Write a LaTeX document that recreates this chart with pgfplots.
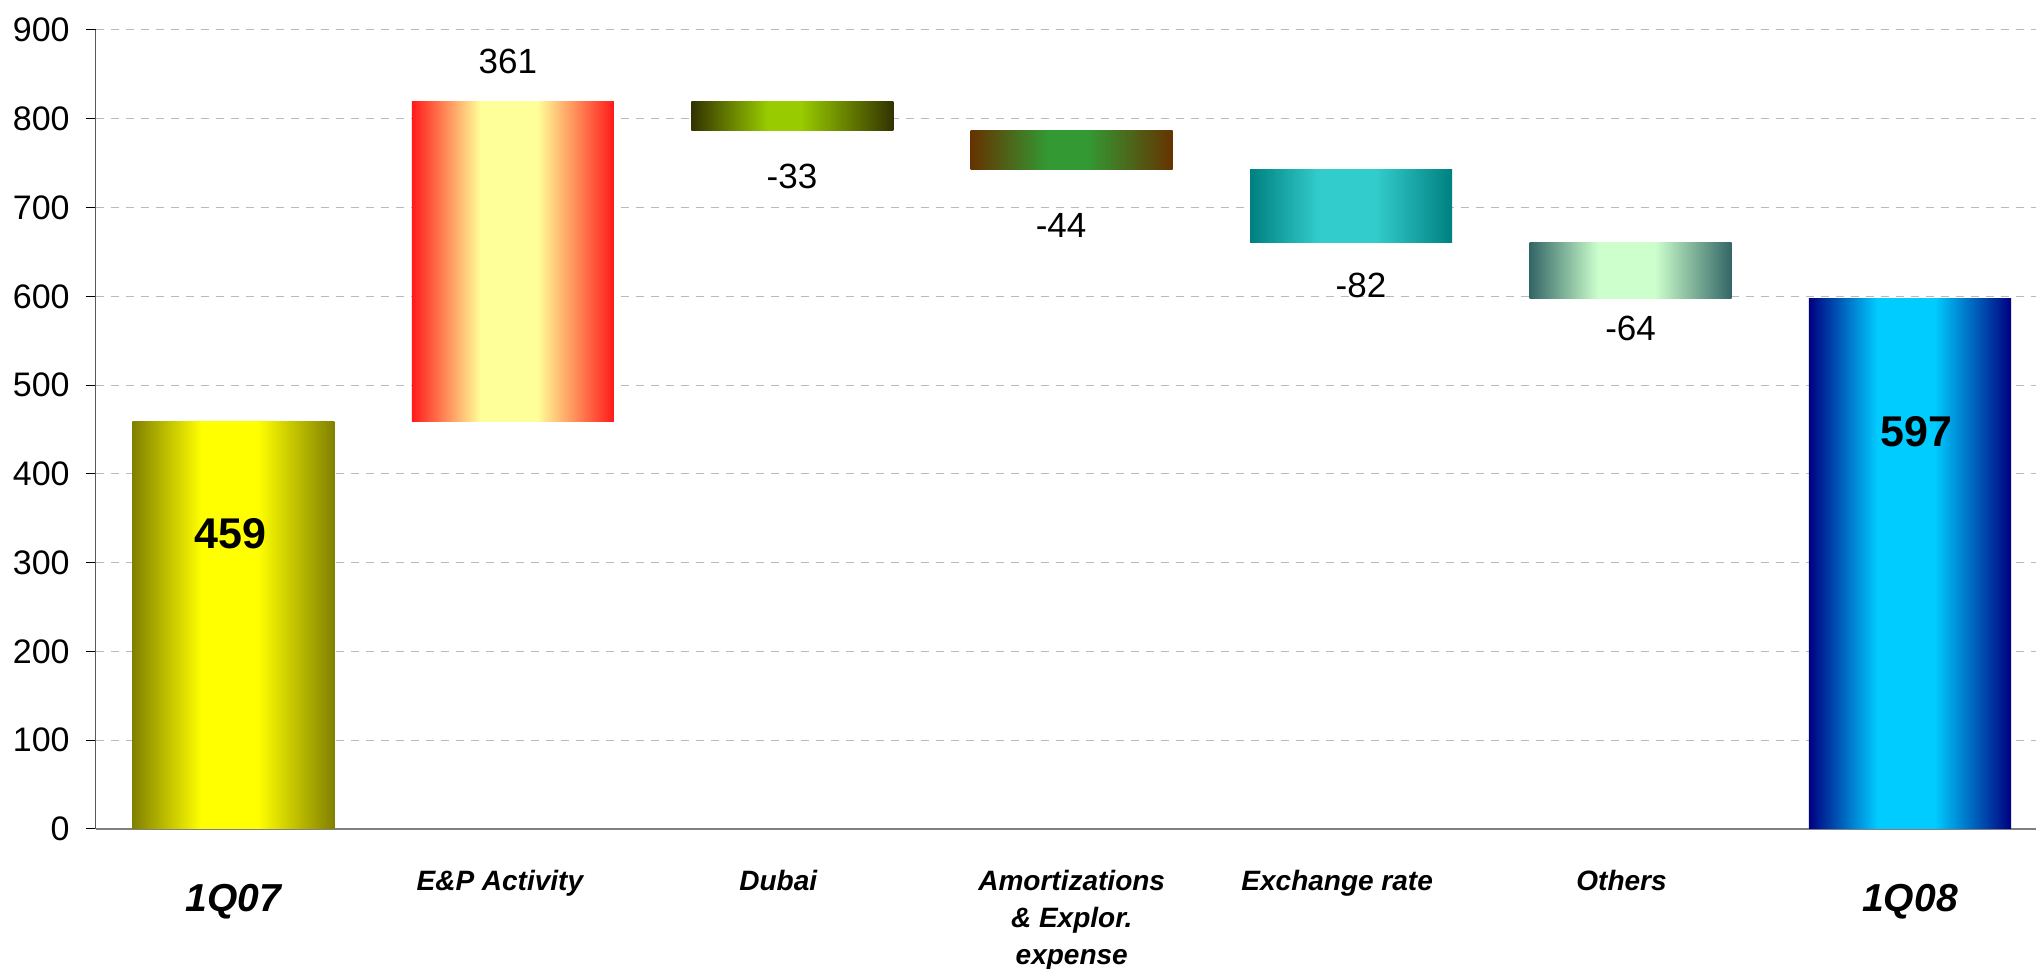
\documentclass[border=0pt]{standalone}
\usepackage{pgfplots}
\pgfplotsset{compat=1.18}
\usepackage{fontspec}
\setmainfont{Liberation Sans}

% edge / middle colours of each bar
\definecolor{eA}{HTML}{808000}\definecolor{mA}{HTML}{FFFF00}
\definecolor{eB}{HTML}{FF1A1A}\definecolor{mB}{HTML}{FFFF99}
\definecolor{eC}{HTML}{333300}\definecolor{mC}{HTML}{99CC00}
\definecolor{eD}{HTML}{663300}\definecolor{mD}{HTML}{339933}
\definecolor{eE}{HTML}{008080}\definecolor{mE}{HTML}{33CCCC}
\definecolor{eF}{HTML}{336666}\definecolor{mF}{HTML}{CCFFCC}
\definecolor{eG}{HTML}{000080}\definecolor{mG}{HTML}{00CCFF}

\pgfdeclarehorizontalshading{shA}{100bp}{color(0bp)=(eA); color(25bp)=(eA); color(42bp)=(mA); color(56bp)=(mA); color(75bp)=(eA); color(100bp)=(eA)}
\pgfdeclarehorizontalshading{shB}{100bp}{color(0bp)=(eB); color(25bp)=(eB); color(42bp)=(mB); color(56bp)=(mB); color(75bp)=(eB); color(100bp)=(eB)}
\pgfdeclarehorizontalshading{shC}{100bp}{color(0bp)=(eC); color(25bp)=(eC); color(44bp)=(mC); color(52bp)=(mC); color(75bp)=(eC); color(100bp)=(eC)}
\pgfdeclarehorizontalshading{shD}{100bp}{color(0bp)=(eD); color(25bp)=(eD); color(44bp)=(mD); color(54bp)=(mD); color(75bp)=(eD); color(100bp)=(eD)}
\pgfdeclarehorizontalshading{shE}{100bp}{color(0bp)=(eE); color(25bp)=(eE); color(42bp)=(mE); color(56bp)=(mE); color(75bp)=(eE); color(100bp)=(eE)}
\pgfdeclarehorizontalshading{shF}{100bp}{color(0bp)=(eF); color(25bp)=(eF); color(42bp)=(mF); color(56bp)=(mF); color(75bp)=(eF); color(100bp)=(eF)}
\pgfdeclarehorizontalshading{shG}{100bp}{color(0bp)=(eG); color(25bp)=(eG); color(42bp)=(mG); color(56bp)=(mG); color(75bp)=(eG); color(100bp)=(eG)}

\begin{document}
\begin{tikzpicture}
\begin{axis}[
  width=970.15pt, height=399.5pt, scale only axis,
  xmin=-0.493, xmax=6.451, ymin=0, ymax=900,
  axis x line*=bottom, axis y line*=left,
  axis line style={-},
  x axis line style={draw=black!50, line width=1.2pt},
  y axis line style={draw=black!65, line width=0.7pt},
  ytick={0,100,...,900},
  xtick={0,1,2,3,4,5,6},
  xticklabels={
    {\raisebox{-10.5pt}{\fontsize{19.5}{23}\selectfont 1Q07}},
    {E\&P Activity\kern13pt},
    {Dubai\kern14pt},
    {\begin{tabular}[t]{@{}c@{}}Amortizations\\ \& Explor.\\ expense\end{tabular}},
    {Exchange rate\kern14pt},
    {Others\kern9pt},
    {\raisebox{-10.5pt}{\fontsize{19.5}{23}\selectfont 1Q08}}},
  tick align=outside,
  major tick length=5pt,
  xtick style={draw=none},
  ytick style={draw=black, line width=0.5pt},
  ymajorgrids,
  major grid style={draw=black!27, line width=0.5pt, dash pattern=on 4.2pt off 3.3pt},
  /pgf/number format/assume math mode=true,
  yticklabel style={font=\fontsize{17}{20}\selectfont, inner sep=0pt, anchor=east, xshift=-7.85pt},
  xticklabel style={font=\fontsize{14}{18.5}\selectfont\bfseries\itshape, anchor=base, yshift=-26pt, inner sep=0pt},
  clip=false,
]
% waterfall bars: (centre +- 0.3615, low .. high)
\addplot[draw=none, shade, shading=shA] coordinates {(-0.3615,0) (0.3615,0) (0.3615,459) (-0.3615,459)} -- cycle;
\addplot[draw=none, shade, shading=shB] coordinates {(0.6385,459) (1.3615,459) (1.3615,820) (0.6385,820)} -- cycle;
\addplot[draw=none, shade, shading=shC] coordinates {(1.6385,787) (2.3615,787) (2.3615,820) (1.6385,820)} -- cycle;
\addplot[draw=none, shade, shading=shD] coordinates {(2.6385,743) (3.3615,743) (3.3615,787) (2.6385,787)} -- cycle;
\addplot[draw=none, shade, shading=shE] coordinates {(3.6385,661) (4.3615,661) (4.3615,743) (3.6385,743)} -- cycle;
\addplot[draw=none, shade, shading=shF] coordinates {(4.6385,597) (5.3615,597) (5.3615,661) (4.6385,661)} -- cycle;
\addplot[draw=none, shade, shading=shG] coordinates {(5.6385,0) (6.3615,0) (6.3615,597) (5.6385,597)} -- cycle;

\coordinate (SW) at (rel axis cs:0,0);
\coordinate (NE) at (rel axis cs:1,1);

\begin{scope}[every node/.style={anchor=base, inner sep=0pt, font=\fontsize{17.5}{20}\selectfont}]
\node at (axis cs:0.982,851.5) {361};
\node at (axis cs:1.999,720.9) {-33};
\node at (axis cs:2.962,666.8) {-44};
\node at (axis cs:4.035,599.2) {-82};
\node at (axis cs:5.0,549.7) {-64};
\node[font=\fontsize{21.5}{24}\selectfont\bfseries] at (axis cs:-0.012,316.5) {459};
\node[font=\fontsize{21.5}{24}\selectfont\bfseries] at (axis cs:6.024,430.3) {597};
\end{scope}
\end{axis}
\pgfresetboundingbox
\path[use as bounding box] ([xshift=-47.85pt,yshift=-70pt]SW) rectangle ([yshift=15pt]NE);
\end{tikzpicture}
\end{document}
